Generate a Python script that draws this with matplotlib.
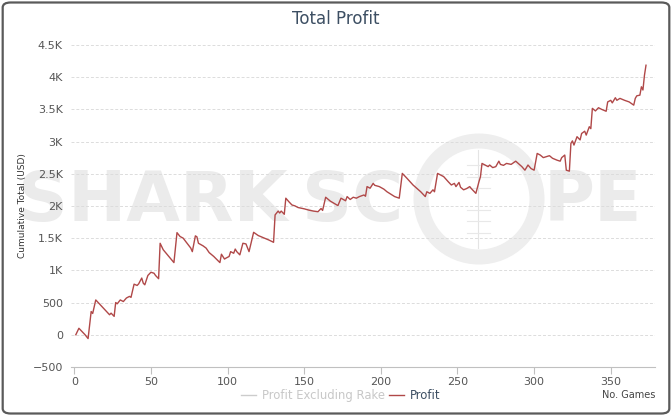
"""Total profit chart (cumulative)"""

import matplotlib
matplotlib.use("Agg")
import matplotlib.pyplot as plt
from matplotlib.lines import Line2D
from matplotlib.patches import FancyBboxPatch, Ellipse

# cumulative profit (game no., total USD)
games = [1, 3, 5, 7, 9, 11, 12, 14, 22, 23, 24, 26, 27, 28, 30, 32, 34, 36, 37,
         39, 41, 42, 44, 45, 46, 48, 50, 52, 53, 55, 56, 58, 65, 67, 69, 71, 76,
         77, 79, 80, 81, 84, 86, 88, 91, 95, 96, 98, 99, 101, 102, 104, 105, 106,
         108, 110, 112, 114, 117, 120, 123, 127, 130, 131, 133, 134, 135, 137,
         138, 140, 142, 144, 146, 150, 153, 156, 159, 161, 162, 164, 167, 172,
         174, 177, 178, 180, 182, 184, 186, 189, 190, 191, 193, 195, 196, 199,
         202, 204, 206, 209, 212, 214, 217, 221, 226, 229, 230, 232, 234, 235,
         237, 241, 244, 246, 248, 249, 251, 252, 254, 256, 258, 259, 261, 262,
         264, 265, 266, 268, 270, 271, 273, 275, 277, 278, 280, 282, 285, 288,
         292, 294, 296, 298, 300, 302, 304, 306, 308, 310, 312, 315, 317, 318,
         320, 321, 323, 324, 325, 326, 328, 330, 331, 333, 334, 336, 337, 338,
         340, 342, 344, 347, 348, 350, 351, 353, 354, 356, 359, 362, 365, 366,
         367, 369, 370, 371, 372, 373]
profit = [0, 100, 50, 0, -60, 360, 330, 540, 335, 310, 335, 285, 500, 480, 540,
          515, 570, 595, 580, 785, 765, 790, 880, 800, 775, 920, 970, 955, 920,
          870, 1420, 1320, 1120, 1585, 1525, 1500, 1345, 1290, 1535, 1520, 1420,
          1380, 1345, 1275, 1215, 1120, 1250, 1175, 1190, 1215, 1290, 1265, 1330,
          1290, 1240, 1420, 1410, 1290, 1590, 1540, 1510, 1470, 1435, 1860, 1920,
          1890, 1920, 1870, 2120, 2065, 2015, 2000, 1975, 1955, 1935, 1920, 1910,
          1960, 1930, 2135, 2075, 2005, 2120, 2080, 2145, 2100, 2135, 2120, 2145,
          2170, 2150, 2300, 2275, 2350, 2320, 2300, 2260, 2220, 2190, 2145, 2120,
          2505, 2430, 2325, 2220, 2145, 2220, 2195, 2250, 2220, 2505, 2455, 2375,
          2325, 2350, 2300, 2365, 2290, 2250, 2270, 2300, 2270, 2220, 2195, 2375,
          2455, 2660, 2635, 2610, 2635, 2595, 2610, 2695, 2645, 2630, 2660, 2645,
          2695, 2610, 2555, 2635, 2580, 2555, 2815, 2790, 2750, 2765, 2780, 2740,
          2710, 2695, 2750, 2790, 2555, 2540, 2970, 3010, 2945, 3075, 3025, 3125,
          3160, 3100, 3230, 3200, 3515, 3475, 3525, 3500, 3470, 3615, 3640, 3600,
          3680, 3640, 3670, 3640, 3615, 3565, 3670, 3710, 3720, 3850, 3800, 4030,
          4185]

y_ticks = [-500, 0, 500, 1000, 1500, 2000, 2500, 3000, 3500, 4000, 4500]
y_tick_labels = ["\u2212500", "0", "500", "1K", "1.5K", "2K", "2.5K", "3K",
                 "3.5K", "4K", "4.5K"]
x_ticks = [0, 50, 100, 150, 200, 250, 300, 350]

TEXT = "#3d4f63"
TICK = "#555555"
LINE = "#b04848"
WM = "#ebebeb"

plt.rcParams["font.family"] = ["DejaVu Sans"]

fig = plt.figure(figsize=(6.72, 4.16), dpi=100)

# rounded border round the whole chart
fig.patches.append(FancyBboxPatch((0.004, 0.006), 0.992, 0.988,
                                  boxstyle="round,pad=0,rounding_size=0.012",
                                  transform=fig.transFigure, fill=False,
                                  edgecolor="#5a5a5a", linewidth=1.6))

ax = fig.add_axes([0.106, 0.118, 0.869, 0.774])
ax.set_axisbelow(True)

# watermark (behind grid and line)
tf = fig.transFigure
ax.text(0.027, 0.515, "SHARK", transform=tf, fontsize=50, fontweight="bold",
        color=WM, va="center", ha="left", zorder=0.1)
ax.text(0.600, 0.515, "SC", transform=tf, fontsize=50, fontweight="bold",
        color=WM, va="center", ha="right", zorder=0.1)
ax.text(0.955, 0.515, "PE", transform=tf, fontsize=50, fontweight="bold",
        color=WM, va="center", ha="right", zorder=0.1)
ax.add_patch(Ellipse((0.7128, 0.5216), 116 / 672, 116 / 416, transform=tf,
                     fill=False, edgecolor="#eeeeee", linewidth=10.8,
                     zorder=0.1, clip_on=False))
ax.plot([0.711, 0.711], [1 - 248 / 416, 1 - 150 / 416], transform=tf,
        color="#e4e4e4", linewidth=0.8, zorder=0.2)
for py in [165, 177, 188, 210, 221, 233]:
    ax.plot([467 / 672, 490 / 672], [1 - py / 416] * 2, transform=tf,
            color="#e8e8e8", linewidth=0.8, zorder=0.2)

ax.plot(games, profit, color=LINE, linewidth=1.0, zorder=3)

ax.set_xlim(-2, 379)
ax.set_ylim(-500, 4500)
ax.set_yticks(y_ticks)
ax.set_yticklabels(y_tick_labels)
ax.set_xticks(x_ticks)

ax.set_facecolor("none")
for side in ["top", "right", "left"]:
    ax.spines[side].set_visible(False)
ax.spines["bottom"].set_color("#c0c0c0")
ax.grid(axis="y", color="#dcdcdc", linestyle=(0, (3, 2)), linewidth=0.7)
ax.tick_params(axis="y", length=0, labelsize=8, labelcolor=TICK, pad=6)
ax.tick_params(axis="x", length=5, color="#c0c0c0", labelsize=8,
               labelcolor=TICK, pad=2)

ax.set_ylabel("Cumulative Total (USD)", fontsize=6.5, color="#333333",
              labelpad=4)
fig.text(0.5, 0.955, "Total Profit", ha="center", va="center", fontsize=12,
         color=TEXT)
fig.text(0.975, 0.05, "No. Games", ha="right", va="center", fontsize=7,
         color="#444444")

handles = [Line2D([], [], color="#cccccc", linewidth=1),
           Line2D([], [], color=LINE, linewidth=1)]
leg = fig.legend(handles, ["Profit Excluding Rake", "Profit"], loc="center",
                 bbox_to_anchor=(0.507, 0.05), ncol=2, frameon=False,
                 fontsize=8.4, handlelength=1.3, handletextpad=0.5,
                 columnspacing=0.4)
leg.get_texts()[0].set_color("#c8c8c8")
leg.get_texts()[1].set_color(TEXT)

fig.savefig("out.png", dpi=100)
